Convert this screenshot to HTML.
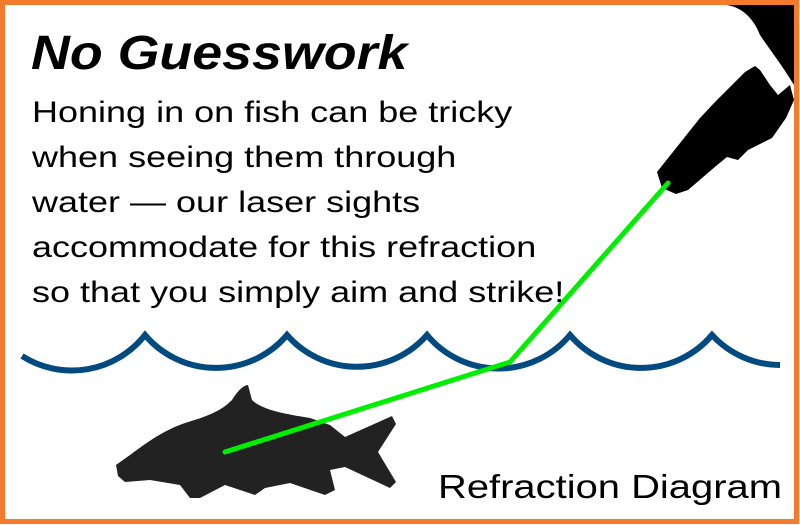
<!DOCTYPE html>
<html><head><style>
html,body{margin:0;padding:0;background:#fff}
body{width:800px;height:525px;position:relative;overflow:hidden;font-family:"Liberation Sans",sans-serif}
.t{position:absolute;white-space:nowrap;color:#000;transform-origin:0 0}
</style></head><body>
<svg width="800" height="525" style="position:absolute;left:0;top:0">
<rect x="2.5" y="2.5" width="794" height="519" fill="#fff" stroke="#f47a2e" stroke-width="5"/>
<path d="M727,5 C745,8 755,22 760,35 C770,50 782,65 794,85 L794,5 Z" fill="#000"/>
<path d="M657,172 L700,118 L715,102 L745,72 L755,66 L760,70 L770,85 L778,95 L790,85 L794,100 L786,118 L772,138 L748,150 L738,160 L727,157 L716,166 L688,190 L676,194 L662,188 Z" fill="#000"/>
<path d="M22,356 A93,93 0 0 0 145,335 A93,93 0 0 0 287,335 A93,93 0 0 0 427,335 A93,93 0 0 0 570,335 A93,93 0 0 0 712,335 A93,93 0 0 0 780,365" fill="none" stroke="#004a80" stroke-width="6"/>
<path d="M116,465 L130,455 C150,440 165,430 185,423 C205,417 220,412 232,400 C238,390 244,385 248,385 L252,400 C262,410 285,414 310,418 L330,425 L345,437 L392,416 L396,424 L378,452 L396,482 L390,488 L345,467 L330,470 L335,490 L325,495 L290,483 L265,488 L255,495 L225,485 L200,498 L190,498 L180,485 L150,480 L125,482 L118,476 Z" fill="#222"/>
<polyline points="225,452 510,362 668,183" fill="none" stroke="#00ee00" stroke-width="5" stroke-linecap="round" stroke-linejoin="round"/>
</svg>
<div class="t" style="left:31px;top:26px;font-size:48px;font-weight:bold;font-style:italic;transform:scaleX(1.12)">No Guesswork</div>
<div class="t" style="left:32px;top:90px;font-size:30px;line-height:45px;transform:scaleX(1.2)">Honing in on fish can be tricky<br>when seeing them through<br>water — our laser sights<br>accommodate for this refraction<br>so that you simply aim and strike!</div>
<div class="t" style="left:438px;top:468px;font-size:33px;transform:scaleX(1.21)">Refraction Diagram</div>
</body></html>
